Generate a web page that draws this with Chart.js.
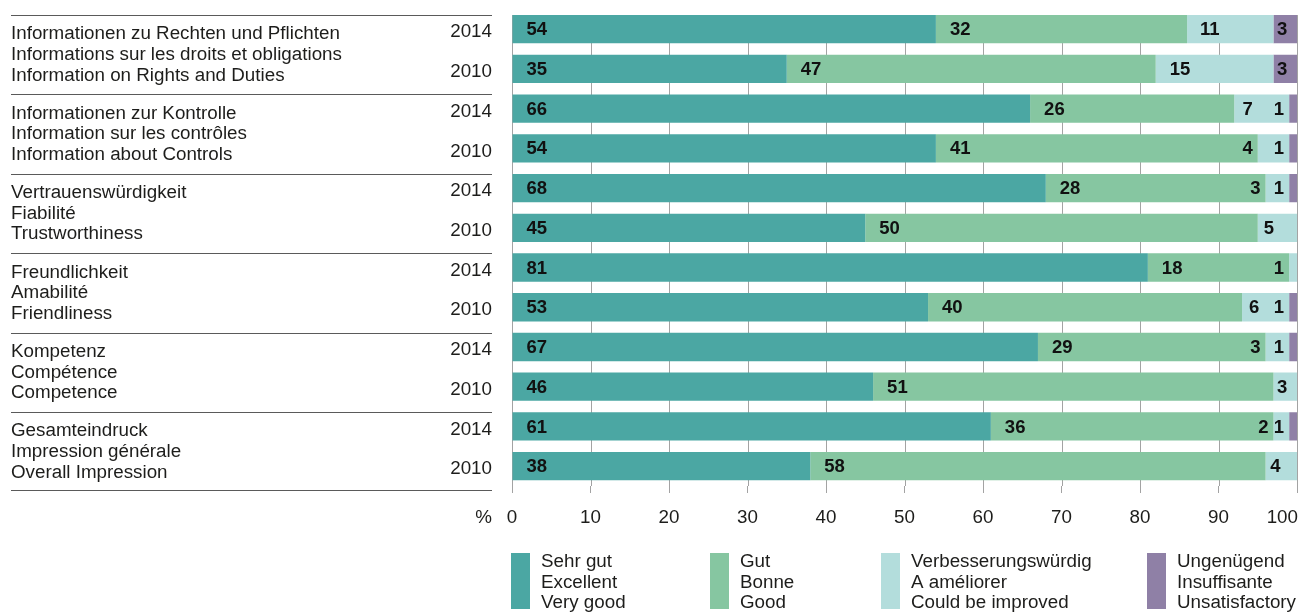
<!DOCTYPE html>
<html>
<head>
<meta charset="utf-8">
<script src="https://cdn.jsdelivr.net/npm/chart.js@4.4.1/dist/chart.umd.min.js"></script>
<style>
  html, body { margin: 0; padding: 0; background: #fff; }
</style>
</head>
<body>
<canvas id="ratingsChart" width="1301" height="612"></canvas>
<script>
// rows: two years per topic, 2014 first
const years = ["2014", "2010", "2014", "2010", "2014", "2010", "2014", "2010", "2014", "2010", "2014", "2010"];
const topics = [
  ["Informationen zu Rechten und Pflichten", "Informations sur les droits et obligations", "Information on Rights and Duties"],
  ["Informationen zur Kontrolle", "Information sur les contrôles", "Information about Controls"],
  ["Vertrauenswürdigkeit", "Fiabilité", "Trustworthiness"],
  ["Freundlichkeit", "Amabilité", "Friendliness"],
  ["Kompetenz", "Compétence", "Competence"],
  ["Gesamteindruck", "Impression générale", "Overall Impression"]
];
const sehrGut = [54, 35, 66, 54, 68, 45, 81, 53, 67, 46, 61, 38];
const gut = [32, 47, 26, 41, 28, 50, 18, 40, 29, 51, 36, 58];
const verbesserung = [11, 15, 7, 4, 3, 5, 1, 6, 3, 3, 2, 4];
const ungenuegend = [3, 3, 1, 1, 1, 0, 0, 1, 1, 0, 1, 0];
const seriesNames = [
  ["Sehr gut", "Excellent", "Very good"],
  ["Gut", "Bonne", "Good"],
  ["Verbesserungswürdig", "A améliorer", "Could be improved"],
  ["Ungenügend", "Insuffisante", "Unsatisfactory"]
];
const seriesColors = ["#4ba7a3", "#86c6a1", "#b3dddc", "#8f80a6"];
const xMin = 0, xMax = 100, xStep = 10;

const FONT = "'Liberation Sans', Arial, Helvetica, sans-serif";
const TEXT = "#1d1d1b";
const legendLeft = [511, 710, 881, 1147];

// vertical grid lines, starting at the top of the first bar
const gridLines = {
  id: "gridLines",
  beforeDatasetsDraw(chart) {
    const ctx = chart.ctx;
    const x = chart.scales.x;
    const first = chart.getDatasetMeta(0).data[0];
    const top = first.y - first.height / 2;
    ctx.save();
    ctx.strokeStyle = "#a3a3a3";
    ctx.lineWidth = 1;
    x.ticks.forEach(t => {
      const px = Math.round(x.getPixelForValue(t.value)) + 0.5;
      ctx.beginPath();
      ctx.moveTo(px, top);
      ctx.lineTo(px, chart.chartArea.bottom);
      ctx.stroke();
    });
    ctx.restore();
  }
};

const valueLabels = {
  id: "valueLabels",
  afterDatasetsDraw(chart) {
    const ctx = chart.ctx;
    const sets = chart.data.datasets;
    ctx.save();
    ctx.font = "bold 18.5px " + FONT;
    ctx.fillStyle = "#111";
    ctx.textBaseline = "middle";
    sets.forEach((ds, k) => {
      chart.getDatasetMeta(k).data.forEach((bar, j) => {
        const v = ds.data[j];
        if (!v) return;
        const start = Math.min(bar.x, bar.base);
        const w = Math.abs(bar.x - bar.base);
        const hasNext = sets.slice(k + 1).some(d => d.data[j] > 0);
        if (v <= 1 || (v <= 4 && hasNext)) {
          ctx.textAlign = "right";
          ctx.fillText(String(v), start - 5, bar.y + 1);
        } else {
          ctx.textAlign = "left";
          ctx.fillText(String(v), start + Math.min(14, w * 0.15), bar.y + 1);
        }
      });
    });
    ctx.restore();
  }
};

const sideText = {
  id: "sideText",
  afterDraw(chart) {
    const ctx = chart.ctx;
    const y = chart.scales.y;
    const x = chart.scales.x;
    const y0 = y.getPixelForValue(0);
    const pitch = y.getPixelForValue(1) - y0;
    ctx.save();
    // separators
    ctx.strokeStyle = "#5a5a5a";
    ctx.lineWidth = 1;
    for (let g = 0; g <= topics.length; g++) {
      const ly = Math.round(y0 + 2 * g * pitch - (g === topics.length ? 0.4 : 0.36) * pitch) + 0.5;
      ctx.beginPath();
      ctx.moveTo(11, ly);
      ctx.lineTo(492, ly);
      ctx.stroke();
    }
    // topic labels
    ctx.font = "18.8px " + FONT;
    ctx.fillStyle = TEXT;
    ctx.textAlign = "left";
    ctx.textBaseline = "alphabetic";
    topics.forEach((lines, g) => {
      const base = y0 + 2 * g * pitch + 10;
      lines.forEach((t, i) => ctx.fillText(t, 11, base + i * 20.7));
    });
    // percent sign and the last x tick, kept inside the canvas
    ctx.textAlign = "right";
    ctx.fillText("%", 492, 523);
    const lastLabel = String(xMax);
    const lastPx = x.getPixelForValue(xMax) + ctx.measureText(lastLabel).width / 2;
    ctx.fillText(lastLabel, Math.min(lastPx, chart.width - 3), 523);
    // legend
    ctx.textAlign = "left";
    seriesNames.forEach((lines, s) => {
      const lx = legendLeft[s];
      ctx.fillStyle = seriesColors[s];
      ctx.fillRect(lx, 553, 19, 56);
      ctx.fillStyle = TEXT;
      lines.forEach((t, i) => ctx.fillText(t, lx + 30, 567 + i * 20.5));
    });
    ctx.restore();
  }
};

const seriesData = [sehrGut, gut, verbesserung, ungenuegend];

new Chart(document.getElementById("ratingsChart").getContext("2d"), {
  type: "bar",
  data: {
    labels: years,
    datasets: seriesData.map((d, i) => ({
      label: seriesNames[i][0],
      data: d,
      backgroundColor: seriesColors[i],
      borderWidth: 0,
      barPercentage: 0.713,
      categoryPercentage: 1
    }))
  },
  options: {
    indexAxis: "y",
    responsive: false,
    animation: false,
    devicePixelRatio: 1,
    layout: { padding: { top: 9.35, right: 4, left: 0, bottom: 0 } },
    plugins: { legend: { display: false }, tooltip: { enabled: false } },
    scales: {
      x: {
        stacked: true,
        min: xMin,
        max: xMax,
        ticks: {
          stepSize: xStep,
          color: TEXT,
          font: { family: FONT, size: 18.8 },
          padding: 14,
          maxRotation: 0,
          callback: v => (v === xMax ? "" : String(v))
        },
        grid: { drawOnChartArea: false, drawTicks: true, tickLength: 7, color: "#a3a3a3" },
        border: { display: false },
        afterFit(scale) {
          scale.height = 126;
          scale.paddingLeft = 0;
          scale.paddingRight = 0;
        }
      },
      y: {
        stacked: true,
        ticks: { color: TEXT, font: { family: FONT, size: 18.8 }, padding: 20, labelOffset: 3 },
        grid: { display: false, drawTicks: false },
        border: { display: false },
        afterFit(scale) {
          scale.width = 512;
          scale.paddingTop = 0;
          scale.paddingBottom = 0;
        }
      }
    }
  },
  plugins: [gridLines, valueLabels, sideText]
});
</script>
</body>
</html>
